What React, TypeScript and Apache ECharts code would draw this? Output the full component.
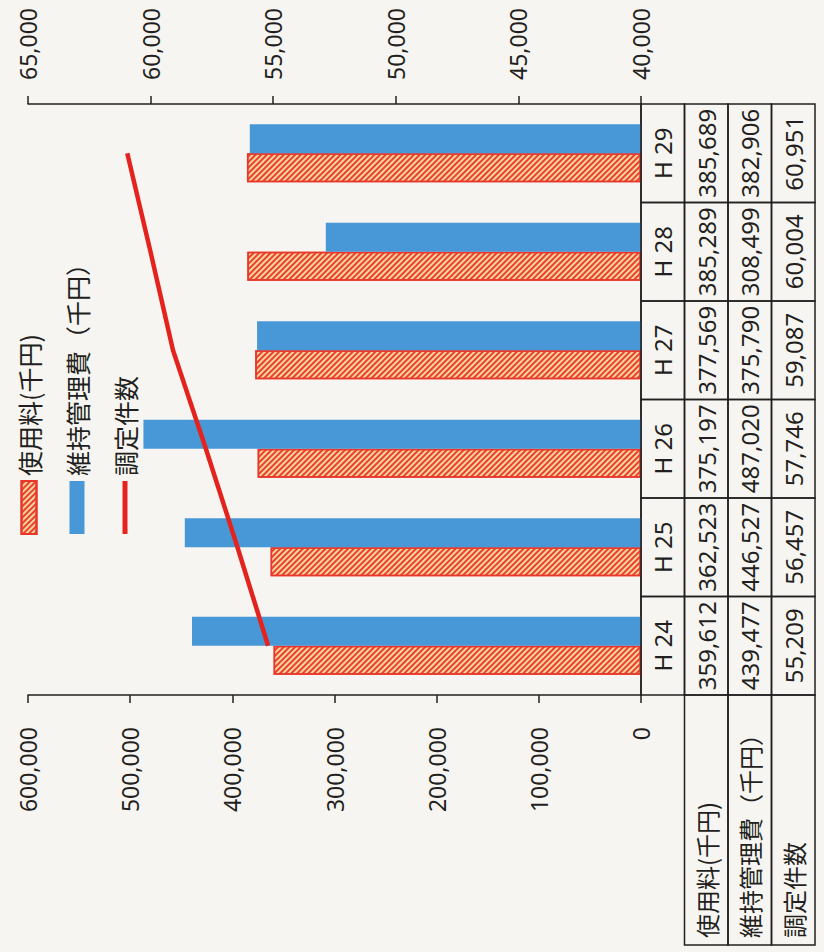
import React, { useEffect, useRef } from 'react';
import * as echarts from 'echarts';

// Fiscal years (Heisei)
const categories = ['H 24', 'H 25', 'H 26', 'H 27', 'H 28', 'H 29'];
// 使用料 (thousand yen)
const usageFees = [359612, 362523, 375197, 377569, 385289, 385689];
// 維持管理費 (thousand yen)
const maintenanceCosts = [439477, 446527, 487020, 375790, 308499, 382906];
// 調定件数
const assessedCounts = [55209, 56457, 57746, 59087, 60004, 60951];

const seriesNames = ['使用料(千円)', '維持管理費（千円）', '調定件数'];

// Axis scales
const amountAxis = { min: 0, max: 600000, interval: 100000 };
const countAxis = { min: 40000, max: 65000, interval: 5000 };

// Chart is laid out landscape and turned a quarter turn on the page
const CHART_W = 952;
const CHART_H = 824;

const PAPER = '#f6f5f1';
const INK = '#231f20';
const LINE_RED = '#e5231e';
const FONT_NUM = "'Noto Sans', 'Noto Sans CJK JP', sans-serif";
const FONT_CJK = "'Noto Sans CJK JP', 'Noto Sans', sans-serif";
const ROW_H = 43.5;
const TABLE_LEFT = 7;

const fmt = (v: number) => v.toLocaleString('en-US');

export default function App() {
  const ref = useRef<HTMLDivElement>(null);

  useEffect(() => {
    document.body.style.margin = '0';
    document.body.style.background = PAPER;
    const chart = echarts.init(ref.current!, null, { renderer: 'svg' });

    const axisLine = { show: true, lineStyle: { color: INK, width: 1.5 } };

    chart.setOption({
      animation: false,
      backgroundColor: PAPER,
      grid: { left: 257, right: 104, top: 28, bottom: 183 },
      legend: {
        orient: 'vertical',
        left: 412,
        top: 9,
        itemWidth: 53,
        itemHeight: 15,
        itemGap: 18,
        selectedMode: false,
        textStyle: { fontSize: 25, fontFamily: FONT_CJK, color: INK, lineHeight: 30 },
        data: [
          { name: seriesNames[0], icon: 'rect' },
          { name: seriesNames[1], icon: 'rect' },
          // plain stroke swatch for the line series
          { name: seriesNames[2], icon: 'path://M0,0H53V5H0Z', itemStyle: { color: LINE_RED } },
        ],
      },
      xAxis: {
        type: 'category',
        data: categories,
        axisLine,
        axisTick: { show: false },
        axisLabel: { show: false },
      },
      yAxis: [
        {
          type: 'value',
          position: 'left',
          ...amountAxis,
          axisLine,
          axisTick: { show: true, length: 8, lineStyle: { color: INK, width: 1.5 } },
          splitLine: { show: false },
          axisLabel: {
            margin: 32,
            fontSize: 23,
            fontFamily: FONT_NUM,
            color: INK,
            formatter: (v: number) => fmt(v),
          },
        },
        {
          type: 'value',
          position: 'right',
          ...countAxis,
          axisLine,
          axisTick: { show: true, length: 8, lineStyle: { color: INK, width: 1.5 } },
          splitLine: { show: false },
          axisLabel: {
            margin: 24,
            fontSize: 23,
            fontFamily: FONT_NUM,
            color: INK,
            formatter: (v: number) => fmt(v),
          },
        },
      ],
      series: [
        {
          name: seriesNames[0],
          type: 'bar',
          data: usageFees,
          barWidth: 29,
          barGap: '0%',
          itemStyle: {
            color: '#f9d49c',
            borderColor: '#e8362b',
            borderWidth: 1.5,
            decal: {
              symbol: 'rect',
              symbolSize: 1,
              color: '#e8412e',
              dashArrayX: [1, 0],
              dashArrayY: [2, 2],
              rotation: Math.PI / 4,
            },
          },
        },
        {
          name: seriesNames[1],
          type: 'bar',
          data: maintenanceCosts,
          barWidth: 29,
          barGap: '0%',
          itemStyle: { color: '#4898d8' },
        },
        {
          name: seriesNames[2],
          type: 'line',
          yAxisIndex: 1,
          data: assessedCounts,
          symbol: 'none',
          z: 4,
          lineStyle: { color: LINE_RED, width: 4.5 },
          itemStyle: { color: LINE_RED },
        },
        {
          // data table under the plot, one column per category
          type: 'custom',
          name: 'table',
          silent: true,
          clip: false,
          z: 5,
          data: categories.map((_, i) => [i, 0, usageFees[i], maintenanceCosts[i], assessedCounts[i]]),
          encode: { x: 0, y: 1 },
          renderItem: (params: any, api: any) => {
            const idx = api.value(0);
            const cs = params.coordSys;
            const center = api.coord([idx, 0])[0];
            const band = api.size([1, 0])[0];
            const left = center - band / 2;
            const top = cs.y + cs.height;
            const cells = [categories[idx], fmt(api.value(2)), fmt(api.value(3)), fmt(api.value(4))];
            const children: any[] = [];
            cells.forEach((txt, r) => {
              const y = top + r * ROW_H;
              children.push({
                type: 'rect',
                shape: { x: left, y, width: band, height: ROW_H },
                style: { fill: 'none', stroke: INK, lineWidth: 1.5 },
              });
              children.push({
                type: 'text',
                style: {
                  text: txt,
                  x: center,
                  y: y + ROW_H / 2,
                  align: 'center',
                  verticalAlign: 'middle',
                  fontSize: 24,
                  fontFamily: FONT_NUM,
                  fill: INK,
                },
              });
            });
            if (idx === 0) {
              seriesNames.forEach((name, r) => {
                const y = top + (r + 1) * ROW_H;
                children.push({
                  type: 'rect',
                  shape: { x: TABLE_LEFT, y, width: left - TABLE_LEFT, height: ROW_H },
                  style: { fill: 'none', stroke: INK, lineWidth: 1.5 },
                });
                children.push({
                  type: 'text',
                  style: {
                    text: name,
                    x: TABLE_LEFT + 7,
                    y: y + ROW_H / 2,
                    align: 'left',
                    verticalAlign: 'middle',
                    fontSize: 24,
                    fontFamily: FONT_CJK,
                    fill: INK,
                  },
                });
              });
            }
            return { type: 'group', children };
          },
        },
      ],
    });

    return () => chart.dispose();
  }, []);

  return (
    <div
      style={{
        position: 'fixed',
        left: 0,
        top: 0,
        width: CHART_H,
        height: CHART_W,
        overflow: 'hidden',
        background: PAPER,
      }}
    >
      <div
        ref={ref}
        style={{
          position: 'absolute',
          left: 0,
          top: 0,
          width: CHART_W,
          height: CHART_H,
          transformOrigin: '0 0',
          transform: `translate(0px, ${CHART_W}px) rotate(-90deg)`,
        }}
      />
    </div>
  );
}
